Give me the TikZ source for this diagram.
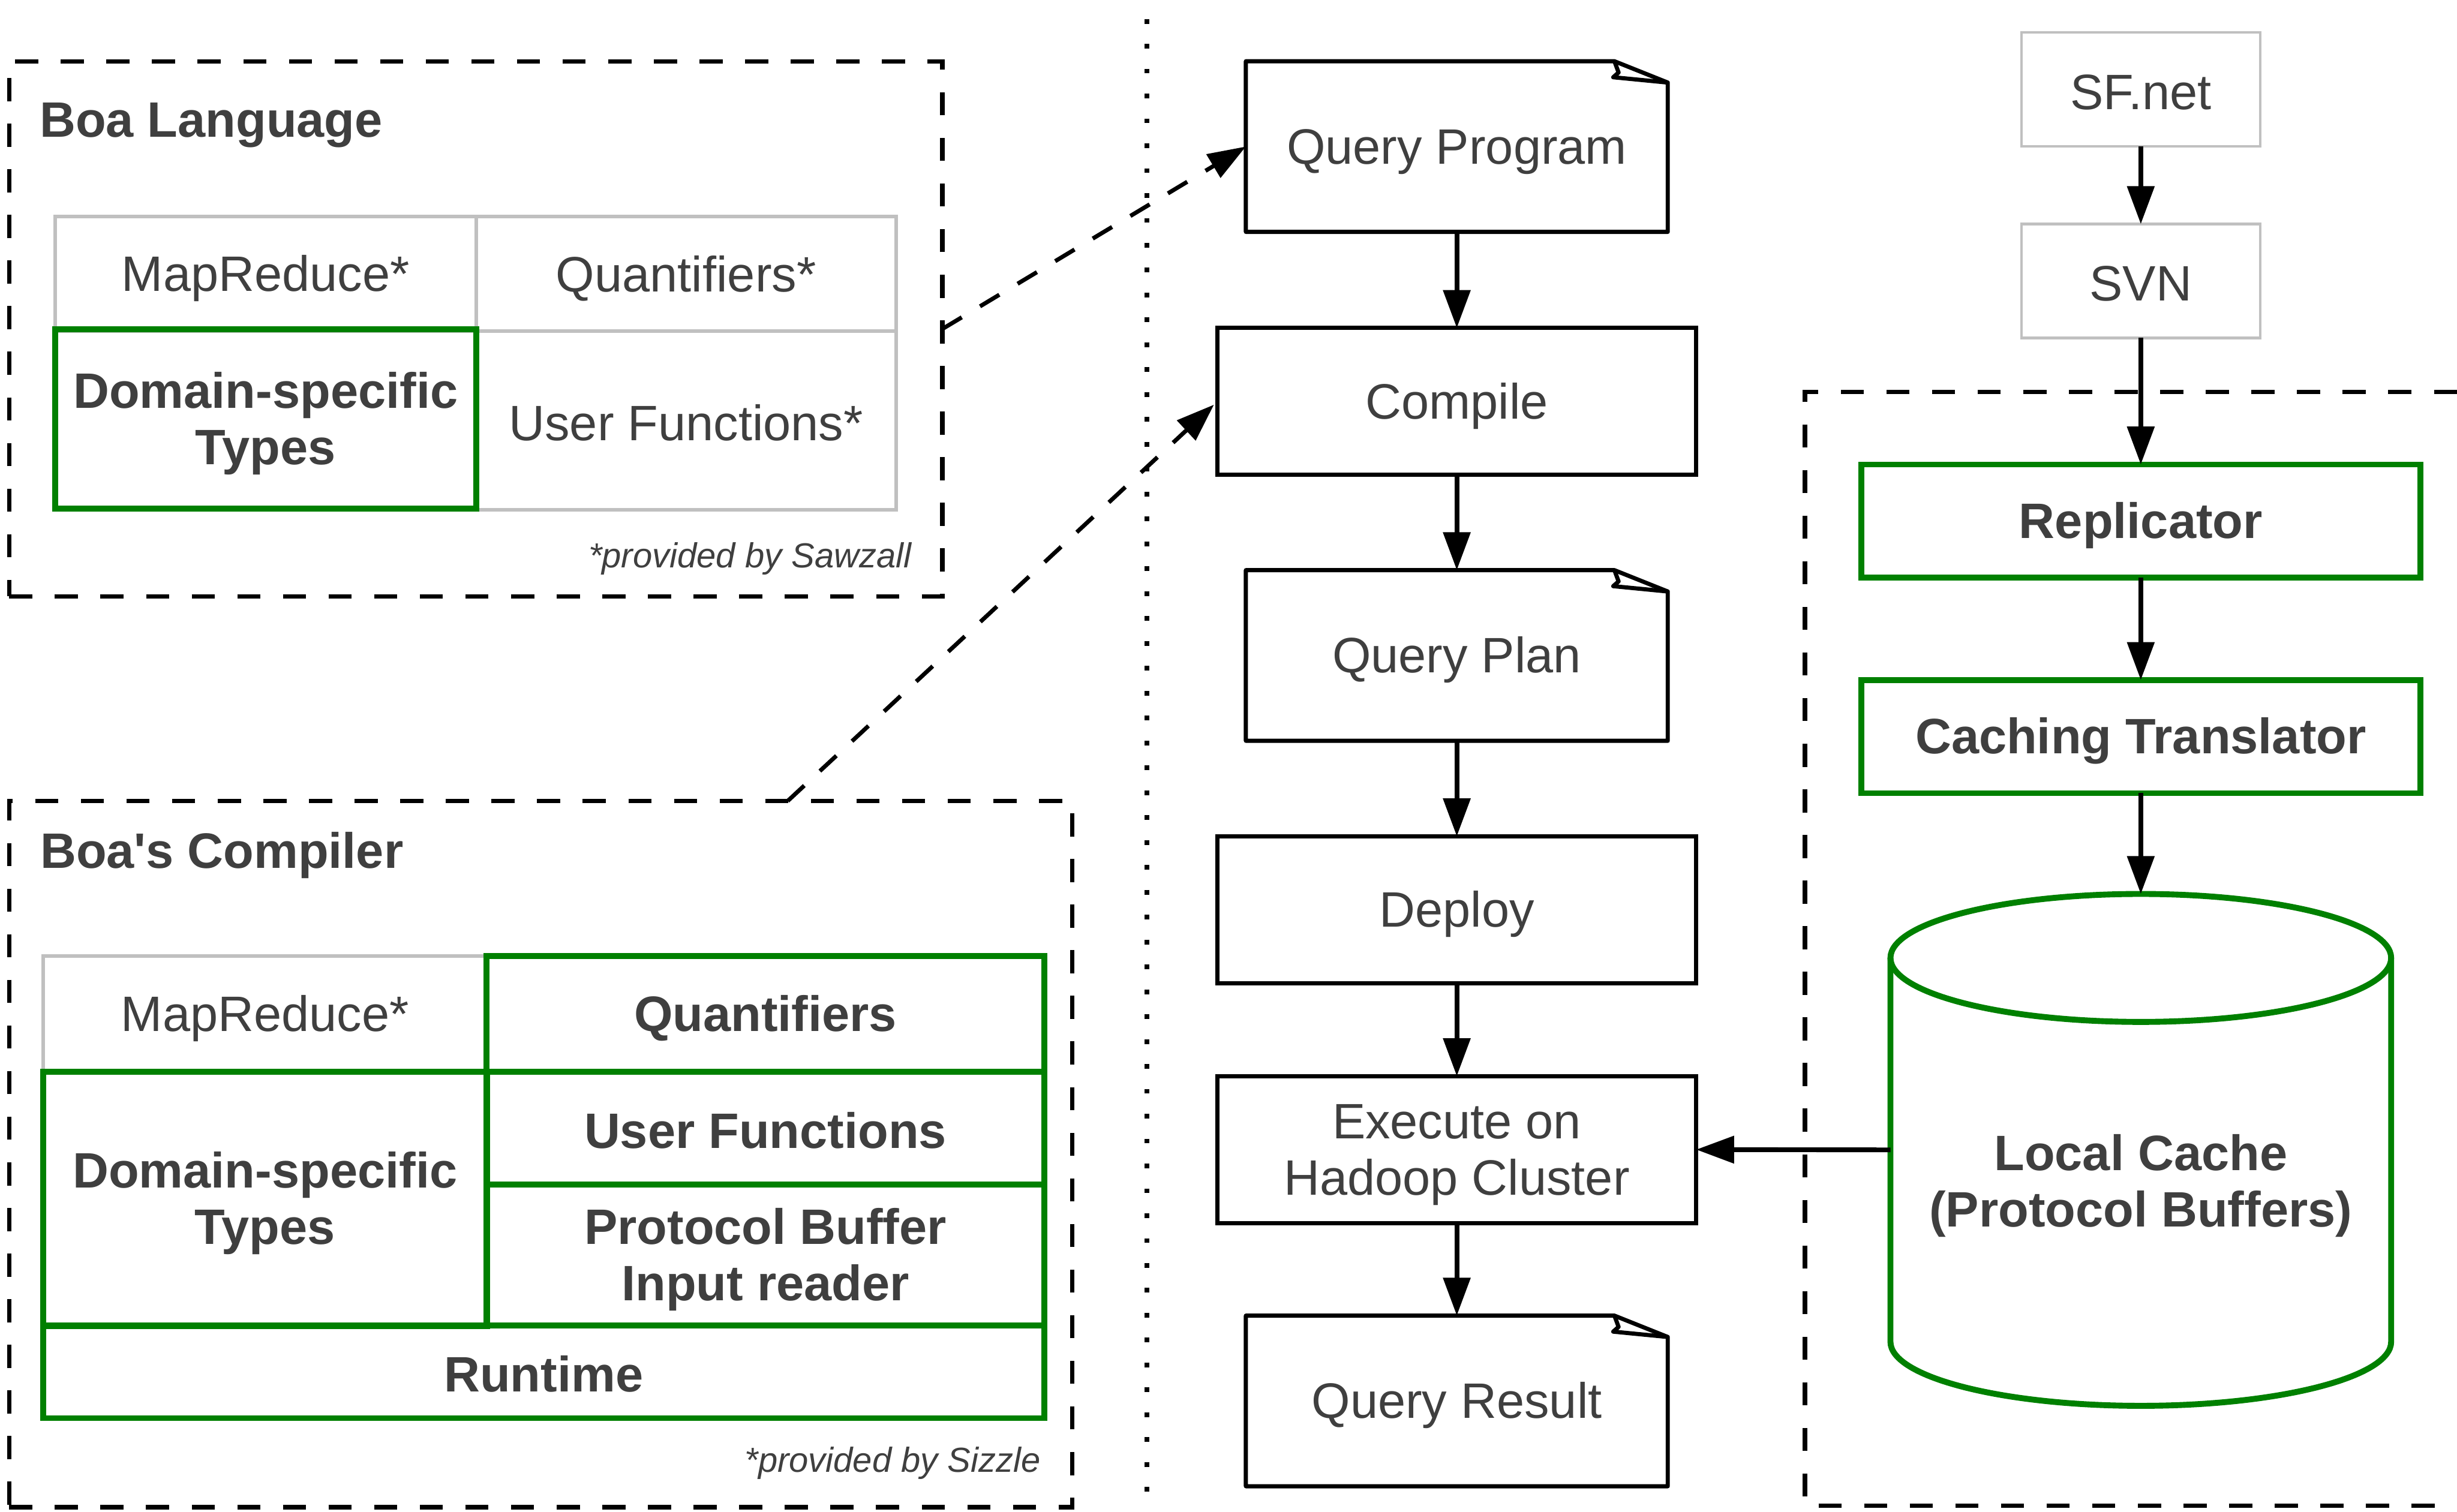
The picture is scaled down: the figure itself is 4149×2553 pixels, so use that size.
\documentclass[tikz,border=0pt]{standalone}
\usepackage{fontspec}
\setmainfont{Liberation Sans}[Ligatures=TeXOff]
\usetikzlibrary{arrows.meta}

\definecolor{txt}{HTML}{3F3F3F}
\definecolor{boagreen}{HTML}{008000}
\definecolor{cellgray}{HTML}{C0C0C0}

% strut giving every text line the same ascent and descent
\newcommand{\lstrut}{\rule[-0.1em]{0pt}{1.0em}}

% outline of a document node with a folded top-right corner
\newcommand{\docoutline}[1]{%
  \draw[docline] (#1.north west) -- ([xshift=-0.9cm]#1.north east)
    -- ([yshift=-0.36cm]#1.north east) -- (#1.south east)
    -- (#1.south west) -- cycle;
  \draw[docline] ([xshift=-0.9cm]#1.north east) -- ++(0.07cm,-0.19cm)
    -- ++(-0.09cm,-0.08cm) -- ([yshift=-0.36cm]#1.north east);}

\begin{document}
\begin{tikzpicture}[x=0.01cm, y=-0.01cm,
  every node/.style={inner sep=0pt, outer sep=0pt, text=txt,
    font=\fontsize{23.9pt}{27pt}\selectfont},
  flowbox/.style={draw=black, line width=0.07cm, minimum width=8.08cm, minimum height=2.48cm},
  docnode/.style={minimum width=7.12cm, minimum height=2.88cm},
  docline/.style={line width=0.07cm, line join=round},
  srcbox/.style={draw=cellgray, line width=0.045cm, minimum width=4.03cm, minimum height=1.92cm},
  greenbox/.style={draw=boagreen, line width=0.1cm, minimum width=9.43cm, minimum height=1.91cm,
    font=\fontsize{23.9pt}{27pt}\selectfont\bfseries},
  graycell/.style={draw=cellgray, line width=0.06cm},
  greencell/.style={draw=boagreen, line width=0.1cm, align=center,
    font=\fontsize{23.9pt}{27pt}\selectfont\bfseries},
  dbox/.style={draw=black, line width=0.075cm, dash pattern=on 0.39cm off 0.38cm},
  title/.style={anchor=base west, font=\fontsize{23.9pt}{27pt}\selectfont\bfseries},
  note/.style={anchor=base east, font=\fontsize{16.7pt}{19pt}\selectfont\itshape},
  flow/.style={line width=0.08cm, -{Triangle[length=0.64cm,width=0.45cm]}},
  darrow/.style={line width=0.07cm, dash pattern=on 0.38cm off 0.36cm,
    -{Triangle[length=0.64cm,width=0.45cm]}},
  cyl/.style={draw=boagreen, line width=0.1cm}
]
\useasboundingbox (0,0) rectangle (4149,2553);

% separator between the language side and the pipeline
\draw[line width=0.08cm, dash pattern=on 0.08cm off 0.34cm] (1937,32) -- (1937,2553);

% ---------- Boa Language ----------
\node[dbox, minimum width=15.75cm, minimum height=9.03cm] (langbox) at (803.5,555.5) {};
\node[title] (langtitle) at (67,231) {Boa Language};
\node[graycell, minimum width=7.11cm, minimum height=1.93cm] (lmap) at (448.5,462.5) {\lstrut MapReduce*};
\node[graycell, minimum width=7.09cm, minimum height=1.93cm] (lquant) at (1158.5,462.5) {\lstrut Quantifiers*};
\node[graycell, minimum width=7.09cm, minimum height=3.02cm] (lfun) at (1158.5,710) {\lstrut User Functions*};
\node[greencell, minimum width=7.11cm, minimum height=3.02cm] (ldom) at (448.5,707.5) {\lstrut Domain-specific\\\lstrut Types};
\node[note] (langnote) at (1539,959) {*provided by Sawzall};

% ---------- Boa's Compiler ----------
\node[dbox, minimum width=17.94cm, minimum height=11.92cm] (compbox) at (913,1949) {};
\node[title] (comptitle) at (68,1466) {Boa's Compiler};
\node[graycell, minimum width=7.49cm, minimum height=1.95cm] (cmap) at (447.5,1712.5) {\lstrut MapReduce*};
\node[greencell, minimum width=9.41cm, minimum height=1.95cm] (cquant) at (1292.5,1712.5) {\lstrut Quantifiers};
\node[greencell, minimum width=7.49cm, minimum height=4.29cm] (cdom) at (447.5,2024.5) {\lstrut Domain-specific\\\lstrut Types};
\node[greencell, minimum width=9.41cm, minimum height=1.91cm] (cfun) at (1292.5,1905.5) {\lstrut User Functions};
\node[greencell, minimum width=9.41cm, minimum height=2.38cm] (cpb) at (1292.5,2120) {\lstrut Protocol Buffer\\\lstrut Input reader};
\node[greencell, minimum width=16.9cm, minimum height=1.56cm] (crun) at (918,2317) {\lstrut Runtime};
\node[note] (compnote) at (1757,2486) {*provided by Sizzle};

% ---------- query pipeline ----------
\node[docnode] (qprog) at (2460,247.5) {\lstrut Query Program};
\docoutline{qprog}
\node[flowbox] (compile) at (2460,678) {\lstrut Compile};
\node[docnode] (qplan) at (2460,1107) {\lstrut Query Plan};
\docoutline{qplan}
\node[flowbox] (deploy) at (2460,1536.5) {\lstrut Deploy};
\node[flowbox, align=center] (exec) at (2460,1941.5) {\lstrut Execute on\\\lstrut Hadoop Cluster};
\node[docnode] (qres) at (2460,2366) {\lstrut Query Result};
\docoutline{qres}

\draw[flow] (qprog.south) -- (compile.north);
\draw[flow] (compile.south) -- (qplan.north);
\draw[flow] (qplan.south) -- (deploy.north);
\draw[flow] (deploy.south) -- (exec.north);
\draw[flow] (exec.south) -- (qres.north);

% ---------- data side ----------
\draw[dbox] (4149,662) -- (3048,662) -- (3048,2543) -- (4149,2543);
\node[srcbox] (sfnet) at (3615,151) {\lstrut SF.net};
\node[srcbox] (svn) at (3615,474.5) {\lstrut SVN};
\node[greenbox] (repl) at (3615,880) {\lstrut Replicator};
\node[greenbox] (cache) at (3615,1244) {\lstrut Caching Translator};

% local cache cylinder
\node[minimum width=8.45cm, minimum height=8.64cm] (lcache) at (3615,1942) {};
\draw[cyl] ([yshift=-1.08cm]lcache.north west) -- ([yshift=1.08cm]lcache.south west)
  arc[start angle=180, end angle=360, x radius=4.225cm, y radius=1.08cm]
  -- ([yshift=-1.08cm]lcache.north east);
\draw[cyl] ([yshift=-1.08cm]lcache.north) ellipse[x radius=4.225cm, y radius=1.08cm];
\node[align=center, font=\fontsize{23.9pt}{27pt}\selectfont\bfseries] (lctext) at (3615,1995)
  {\lstrut Local Cache\\\lstrut (Protocol Buffers)};

\draw[flow] (sfnet.south) -- (svn.north);
\draw[flow] (svn.south) -- (repl.north);
\draw[flow] (repl.south) -- (cache.north);
\draw[flow] (cache.south) -- (lcache.north);
\draw[flow] (lcache.west) -- (exec.east);

% ---------- links from the language to the pipeline ----------
\draw[darrow] (langbox.east) -- (qprog.west);
\draw[darrow, shorten >=0.08cm] ([xshift=-4.8cm]compbox.north east) -- (compile.west);
\end{tikzpicture}
\end{document}
